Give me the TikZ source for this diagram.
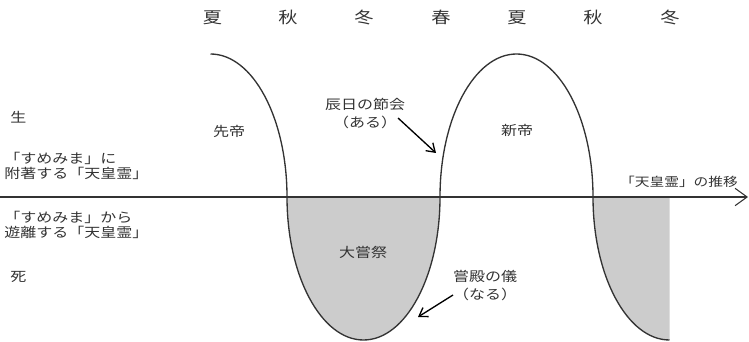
\documentclass[tikz,border=0pt]{standalone}
\usepackage{fontspec}
\setmainfont[FakeStretch=1.2]{Noto Sans CJK JP}
\usetikzlibrary{arrows.meta}
\definecolor{ink}{HTML}{333333}
\definecolor{shade}{HTML}{CCCCCC}
\tikzset{
  lbl/.style={text=ink,inner sep=0pt,font=\fontsize{10}{10.8}\selectfont,align=left},
  twoline/.style={text=ink,inner sep=0pt,font=\fontsize{10}{13.5}\selectfont,align=center},
  season/.style={text=ink,inner sep=0pt,font=\fontsize{12}{14}\selectfont},
  wave/.style={draw=ink,line width=1pt},
  axisline/.style={draw=ink,line width=1.2pt,-{Straight Barb[length=9pt,width=13pt,line width=0.8pt]}},
  pointer/.style={draw=black,line width=1pt,-{Straight Barb[length=6pt,width=8pt]}},
  fillarea/.style={fill=shade,draw=none}
}
\begin{document}
\begin{tikzpicture}[x=0.75pt,y=0.75pt]
\useasboundingbox (0,0) rectangle (749,342);
% gray areas
\fill[fillarea] (287,145) arc[start angle=180,end angle=360,x radius=76.5,y radius=143] -- cycle;
\fill[fillarea] (593,145) arc[start angle=180,end angle=270,x radius=76.5,y radius=143] -- (669.5,145) -- cycle;
% axis
\coordinate (axL) at (0,145);
\coordinate (axR) at (748,145);
\draw[axisline] (axL) -- (axR);
% wave
\coordinate (w0) at (210.5,288);
\draw[wave] (w0) arc[start angle=90,end angle=0,x radius=76.5,y radius=143]
  arc[start angle=180,end angle=360,x radius=76.5,y radius=143]
  arc[start angle=180,end angle=0,x radius=76.5,y radius=143]
  arc[start angle=180,end angle=270,x radius=76.5,y radius=143];
% seasons
\node[season] (s1) at (212.5,324.5) {夏};
\node[season] (s2) at (288,324.5) {秋};
\node[season] (s3) at (364,324.5) {冬};
\node[season] (s4) at (441,324.5) {春};
\node[season] (s5) at (517,324.5) {夏};
\node[season] (s6) at (593,324.5) {秋};
\node[season] (s7) at (670,324.5) {冬};
% left labels
\node[lbl,anchor=west] (sei) at (10,225) {生};
\node[lbl,anchor=west] (fuchaku) at (4,176) {「すめみま」に\\附著する「天皇霊」};
\node[lbl,anchor=west] (yuri) at (4,117) {「すめみま」から\\遊離する「天皇霊」};
\node[lbl,anchor=west] (shi) at (10,65) {死};
% inner labels
\node[lbl] (sentei) at (229,211) {先帝};
\node[lbl] (shintei) at (517,212) {新帝};
\node[lbl] (daijosai) at (363,90) {大嘗祭};
\node[twoline] (tatsu) at (365,228) {辰日の節会\\（ある）};
\node[twoline] (shinden) at (485,56.5) {嘗殿の儀\\（なる）};
\node[lbl,font=\fontsize{9.2}{11}\selectfont] (suii) at (679,160) {「天皇霊」の推移};
% pointers
\coordinate (tatsuTip) at (436,189);
\coordinate (shindenTip) at (418,25);
\draw[pointer] (398,224) -- (tatsuTip);
\draw[pointer] (453,47) -- (shindenTip);
\end{tikzpicture}
\end{document}
